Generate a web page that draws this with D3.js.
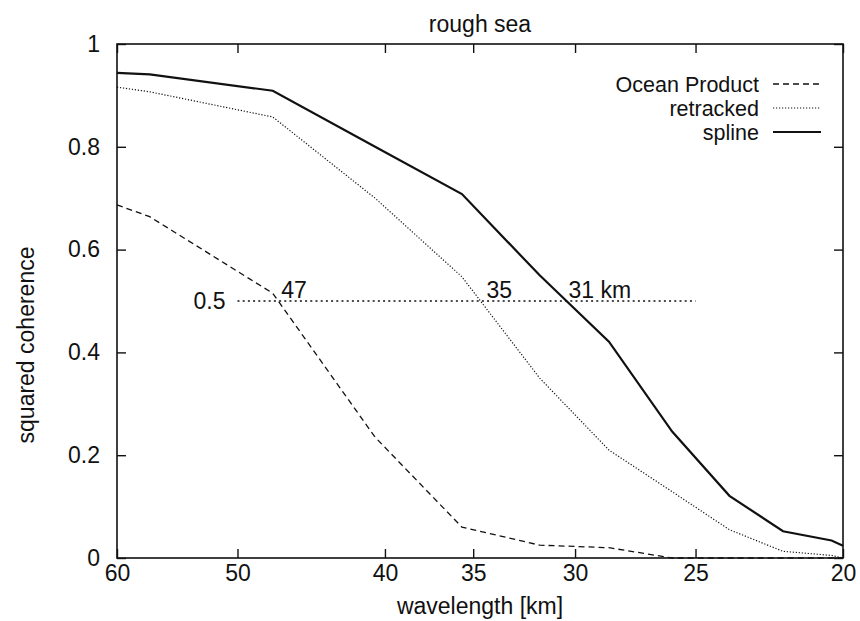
<!DOCTYPE html>
<html>
<head>
<meta charset="utf-8">
<script src="https://cdn.jsdelivr.net/npm/d3@7/dist/d3.min.js"></script>
<style>
  body { margin: 0; background: #fff; }
  svg text { font-family: "Liberation Sans", Arial, sans-serif; fill: #111; }
</style>
</head>
<body>
<div id="chart"></div>
<script>
// values (x is wavelength in km, log axis running 60 -> 20)
var wavelength   = [60, 57.1, 47.4, 40.6, 35.6, 31.65, 28.5, 25.9, 23.75, 21.9, 20.35, 20];
var oceanProduct = [0.687, 0.664, 0.515, 0.235, 0.06, 0.025, 0.02, 0.0, 0.0, 0.0, 0.0, 0.0];
var retracked    = [0.916, 0.907, 0.858, 0.70, 0.547, 0.35, 0.21, 0.129, 0.055, 0.013, 0.005, 0.0];
var spline       = [0.944, 0.941, 0.909, 0.80, 0.708, 0.55, 0.421, 0.246, 0.121, 0.052, 0.034, 0.024];

var seriesNames = ["Ocean Product", "retracked", "spline"];
var xTicks = [60, 50, 40, 35, 30, 25, 20];
var yTicks = [0, 0.2, 0.4, 0.6, 0.8, 1];

// the 0.5 marker line and the crossing labels
var levelLine = [50, 25];
var levelValue = 0.5;
var crossLabels = ["47", "35", "31 km"];
var crossAt = [46.8, 34.3, 30.3];

var W = 860, H = 621;
var margin = {left: 117, right: 17, top: 44, bottom: 63};
var fs = 23;

var svg = d3.select("#chart").append("svg").attr("width", W).attr("height", H);

var x = d3.scaleLog().domain([60, 20]).range([margin.left, W - margin.right]);
var y = d3.scaleLinear().domain([0, 1]).range([H - margin.bottom, margin.top]);

var styles = {
    "Ocean Product": {width: 1.3, dash: "6,4"},
    "retracked":     {width: 1.2, dash: "1.2,1.8"},
    "spline":        {width: 2.2, dash: null}
};
var values = {"Ocean Product": oceanProduct, "retracked": retracked, "spline": spline};

// frame
svg.append("rect")
    .attr("x", x(60)).attr("y", y(1))
    .attr("width", x(20) - x(60)).attr("height", y(0) - y(1))
    .attr("fill", "none").attr("stroke", "#111").attr("stroke-width", 1.6);

var tl = 9;
// axes: d3 axes with inward ticks on all four sides
var xAxis = svg.append("g").attr("transform", "translate(0," + y(0) + ")")
    .call(d3.axisBottom(x).tickValues(xTicks).tickFormat(d3.format("d")).tickSizeInner(-tl).tickSizeOuter(0).tickPadding(7));
var xTop = svg.append("g").attr("transform", "translate(0," + y(1) + ")")
    .call(d3.axisTop(x).tickValues(xTicks).tickFormat("").tickSizeInner(-tl).tickSizeOuter(0));
var yAxis = svg.append("g").attr("transform", "translate(" + x(60) + ",0)")
    .call(d3.axisLeft(y).tickValues(yTicks).tickFormat(function(d){ return d === 0 || d === 1 ? d3.format("d")(d) : d3.format(".1f")(d); })
        .tickSizeInner(-tl).tickSizeOuter(0).tickPadding(17));
var yRight = svg.append("g").attr("transform", "translate(" + x(20) + ",0)")
    .call(d3.axisRight(y).tickValues(yTicks).tickFormat("").tickSizeInner(-tl).tickSizeOuter(0));

[xAxis, xTop, yAxis, yRight].forEach(function(g){
    g.select(".domain").remove();
    g.selectAll("line").attr("stroke", "#111").attr("stroke-width", 1.4);
    g.selectAll("text").attr("font-size", fs).attr("fill", "#111");
});

// curves
var line = d3.line()
    .x(function(d){ return x(d[0]); })
    .y(function(d){ return y(d[1]); });

seriesNames.forEach(function(name){
    var pts = wavelength.map(function(w, i){ return [w, values[name][i]]; });
    svg.append("path")
        .datum(pts)
        .attr("d", line)
        .attr("fill", "none")
        .attr("stroke", "#111")
        .attr("stroke-width", styles[name].width)
        .attr("stroke-dasharray", styles[name].dash);
});

// 0.5 level line
svg.append("line")
    .attr("x1", x(levelLine[0])).attr("x2", x(levelLine[1]))
    .attr("y1", y(levelValue)).attr("y2", y(levelValue))
    .attr("stroke", "#111").attr("stroke-width", 1.5).attr("stroke-dasharray", "2,3.2");
svg.append("text")
    .attr("x", x(levelLine[0]) - 12).attr("y", y(levelValue))
    .attr("dy", "0.35em").attr("text-anchor", "end").attr("font-size", fs)
    .text("0.5");
svg.selectAll(".cross").data(crossLabels).enter().append("text")
    .attr("class", "cross")
    .attr("x", function(d, i){ return x(crossAt[i]); })
    .attr("y", y(levelValue) - 3)
    .attr("font-size", fs)
    .text(function(d){ return d; });

// legend
var lg = svg.append("g");
seriesNames.forEach(function(name, i){
    var ly = 84 + i * 24;
    lg.append("text")
        .attr("x", 759).attr("y", ly).attr("dy", "0.35em")
        .attr("text-anchor", "end").attr("font-size", 21.5)
        .text(name);
    lg.append("line")
        .attr("x1", 773).attr("x2", 821).attr("y1", ly).attr("y2", ly)
        .attr("stroke", "#111")
        .attr("stroke-width", styles[name].width)
        .attr("stroke-dasharray", styles[name].dash);
});

// titles
svg.append("text")
    .attr("x", (x(60) + x(20)) / 2).attr("y", 32)
    .attr("text-anchor", "middle").attr("font-size", fs)
    .text("rough sea");
svg.append("text")
    .attr("x", (x(60) + x(20)) / 2).attr("y", 614)
    .attr("text-anchor", "middle").attr("font-size", fs)
    .text("wavelength [km]");
svg.append("text")
    .attr("transform", "translate(34," + (y(0.5) + 44) + ") rotate(-90)")
    .attr("text-anchor", "middle").attr("font-size", fs)
    .text("squared coherence");
</script>
</body>
</html>
